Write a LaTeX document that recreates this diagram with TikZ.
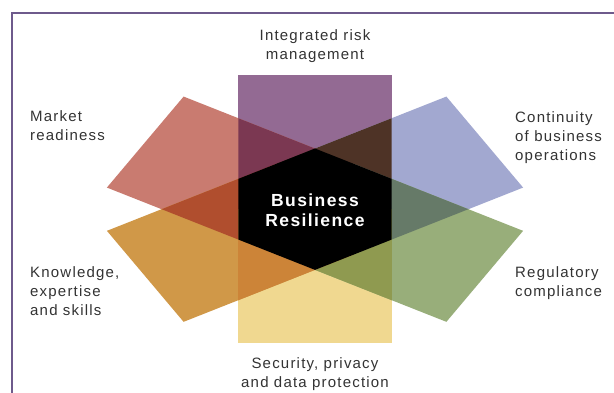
\documentclass[tikz,border=0pt]{standalone}
\usepackage{fontspec}
\setmainfont{Liberation Sans}[LetterSpace=8]
\usepackage{xcolor}

\definecolor{framecol}{HTML}{6E5A8C}
\definecolor{textgray}{HTML}{333333}
\definecolor{plum}{HTML}{936A93}
\definecolor{salmon}{HTML}{C97B70}
\definecolor{lavender}{HTML}{A2A8D0}
\definecolor{ochre}{HTML}{D09848}
\definecolor{sage}{HTML}{98AE7A}
\definecolor{straw}{HTML}{F0D890}
\definecolor{plumsalmon}{HTML}{7B3852}
\definecolor{plumlavender}{HTML}{4E3326}
\definecolor{salmonochre}{HTML}{B04E2E}
\definecolor{lavendersage}{HTML}{667A68}
\definecolor{sagestraw}{HTML}{8F9A50}
\definecolor{ochrestraw}{HTML}{CC8438}

\def\bw{76.7}
\def\bl{196}

\begin{document}
\begin{tikzpicture}[x=1pt,y=1pt]
  \tikzset{petal/.style={rotate=#1}}
  \tikzset{lbl/.style={font=\fontsize{15}{19}\selectfont, text=textgray, inner sep=0pt}}
  \useasboundingbox (0,0) rectangle (614,392);
  \fill[white] (0,0) rectangle (614,392);
  % frame (only top and left edges fit on the page)
  \draw[framecol, line width=2pt] (11.7,-10) -- (11.7,378.7) -- (630,378.7);

  \begin{scope}[shift={(315,182.8)}, yscale=0.685]
    % the six half-bands
    \fill[plum,petal=0]      (-\bw,0) rectangle (\bw,\bl);
    \fill[straw,petal=180]   (-\bw,0) rectangle (\bw,\bl);
    \fill[salmon,petal=60]   (-\bw,0) rectangle (\bw,\bl);
    \fill[lavender,petal=-60](-\bw,0) rectangle (\bw,\bl);
    \fill[ochre,petal=120]   (-\bw,0) rectangle (\bw,\bl);
    \fill[sage,petal=-120]   (-\bw,0) rectangle (\bw,\bl);
    % overlaps of neighbouring half-bands
    \foreach \a/\b/\c in {0/60/plumsalmon, 0/-60/plumlavender, 60/120/salmonochre,
                          -60/-120/lavendersage, -120/180/sagestraw, 120/180/ochrestraw} {
      \begin{scope}
        \clip[petal=\a] (-\bw,0) rectangle (\bw,\bl);
        \fill[\c,petal=\b] (-\bw,0) rectangle (\bw,\bl);
      \end{scope}
    }
    % core hexagon
    \fill[black] (90:88.6) -- (30:88.6) -- (-30:88.6) -- (-90:88.6) -- (-150:88.6) -- (150:88.6) -- cycle;
  \end{scope}

  % base anchor sits on the last line of each node
  \node[inner sep=0pt, text=white, align=center, anchor=base, font=\bfseries\fontsize{17.5}{20.5}\selectfont]
    (core) at (315,165.5) {Business\\Resilience};

  \node[lbl, align=center, anchor=base] (risk)       at (315,332.3) {Integrated risk\\management};
  \node[lbl, align=left, anchor=base west] (market)     at (30,252)    {Market\\readiness};
  \node[lbl, align=left, anchor=base west] (continuity) at (515,231.3) {Continuity\\of business\\operations};
  \node[lbl, align=left, anchor=base west] (knowledge)  at (30,77)     {Knowledge,\\expertise\\and skills};
  \node[lbl, align=left, anchor=base west] (regulatory) at (515,95.3)  {Regulatory\\compliance};
  \node[lbl, align=center, anchor=base] (security)   at (315,4.5)   {Security, privacy\\and data protection};
\end{tikzpicture}
\end{document}
